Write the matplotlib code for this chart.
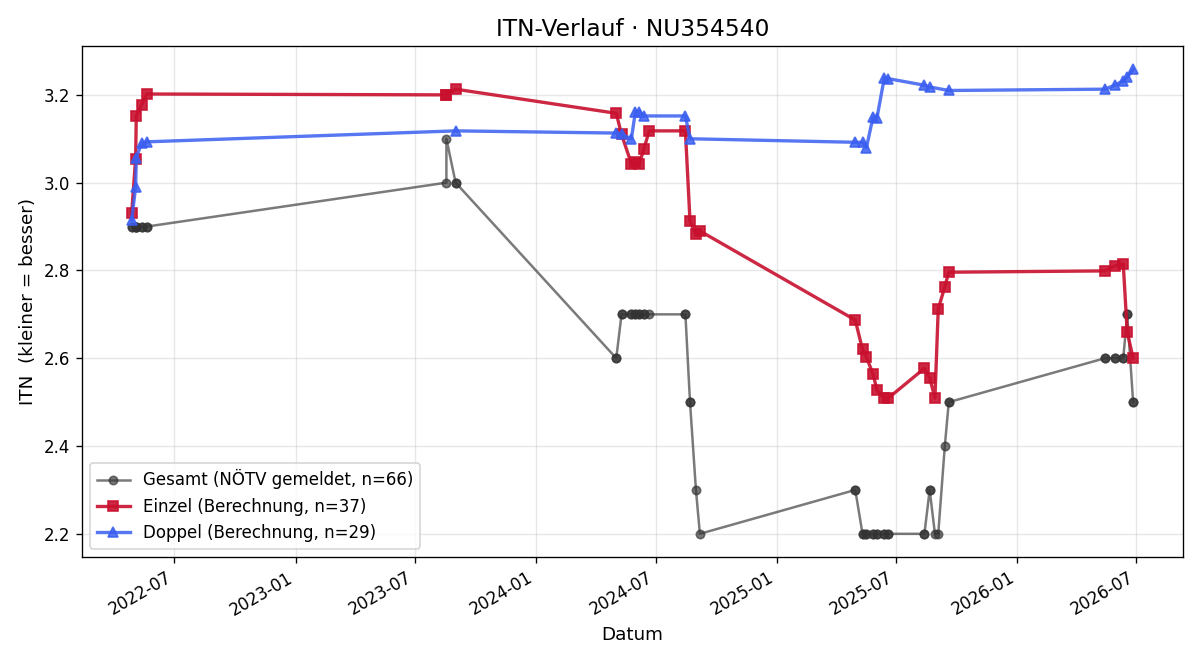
import matplotlib
matplotlib.use("Agg")
import matplotlib.pyplot as plt
import matplotlib.dates as mdates
import pandas as pd

gesamt_dates = (
    ["2022-04-27"] * 2 + ["2022-05-03"] * 2 + ["2022-05-04"] * 2 + ["2022-05-12"] * 2 + ["2022-05-20"] * 2
    + ["2023-08-18", "2023-08-18", "2023-09-01", "2023-09-01"]
    + ["2024-05-02"] * 2 + ["2024-05-10"] * 2 + ["2024-05-25"] * 2 + ["2024-05-31"] * 2
    + ["2024-06-06"] * 2 + ["2024-06-13"] * 2 + ["2024-06-21"] + ["2024-08-15"] * 2
    + ["2024-08-22"] * 2 + ["2024-08-31", "2024-09-06"]
    + ["2025-04-30"] * 2 + ["2025-05-11"] * 2 + ["2025-05-17"] * 2 + ["2025-05-27"] * 2
    + ["2025-06-02"] * 2 + ["2025-06-13"] * 2 + ["2025-06-19"] * 2 + ["2025-08-13"] * 2
    + ["2025-08-21"] * 2 + ["2025-08-29", "2025-09-03", "2025-09-13"] + ["2025-09-19"] * 2
    + ["2026-05-14"] * 2 + ["2026-05-29"] * 2 + ["2026-06-11"] * 2 + ["2026-06-17"] * 2 + ["2026-06-26"] * 2
)
gesamt_values = (
    [2.9] * 10
    + [3.0, 3.1, 3.0, 3.0]
    + [2.6, 2.6] + [2.7] * 13 + [2.5, 2.5, 2.3, 2.2]
    + [2.3, 2.3] + [2.2] * 14 + [2.3, 2.3, 2.2, 2.2, 2.4, 2.5, 2.5]
    + [2.6] * 6 + [2.7, 2.7, 2.5, 2.5]
)

einzel_dates = [
    "2022-04-27", "2022-05-03", "2022-05-04", "2022-05-12", "2022-05-20",
    "2023-08-18", "2023-08-18", "2023-09-01",
    "2024-05-02", "2024-05-10", "2024-05-25", "2024-05-31", "2024-06-06", "2024-06-13",
    "2024-06-21", "2024-08-15", "2024-08-22", "2024-08-31", "2024-09-06",
    "2025-04-30", "2025-05-11", "2025-05-17", "2025-05-27", "2025-06-02", "2025-06-13",
    "2025-06-19", "2025-08-13", "2025-08-21", "2025-08-29", "2025-09-03", "2025-09-13",
    "2025-09-19",
    "2026-05-14", "2026-05-29", "2026-06-11", "2026-06-17", "2026-06-26",
]
einzel_values = [
    2.93, 3.055, 3.152, 3.177, 3.202,
    3.20, 3.20, 3.213,
    3.158, 3.11, 3.043, 3.047, 3.043, 3.077, 3.118, 3.118, 2.912, 2.882, 2.89,
    2.687, 2.62, 2.602, 2.564, 2.527, 2.509, 2.509, 2.577, 2.556, 2.509, 2.712, 2.763, 2.796,
    2.799, 2.81, 2.815, 2.66, 2.60,
]

doppel_dates = [
    "2022-04-27", "2022-05-03", "2022-05-04", "2022-05-12", "2022-05-20",
    "2023-09-01",
    "2024-05-02", "2024-05-10", "2024-05-25", "2024-05-31", "2024-06-06", "2024-06-13",
    "2024-08-15", "2024-08-22",
    "2025-04-30", "2025-05-11", "2025-05-17", "2025-05-27", "2025-06-02", "2025-06-13",
    "2025-06-19", "2025-08-13", "2025-08-21", "2025-09-19",
    "2026-05-14", "2026-05-29", "2026-06-11", "2026-06-17", "2026-06-26",
]
doppel_values = [
    2.915, 2.99, 3.057, 3.09, 3.093,
    3.118,
    3.113, 3.11, 3.10, 3.162, 3.162, 3.152, 3.152, 3.10,
    3.092, 3.092, 3.08, 3.15, 3.148, 3.238, 3.237, 3.222, 3.218, 3.21,
    3.213, 3.222, 3.232, 3.24, 3.258,
]

fig = plt.figure(figsize=(10, 5.5), dpi=120)
ax = fig.add_axes([0.068, 0.156, 0.918, 0.774])

gd = pd.to_datetime(gesamt_dates)
ed = pd.to_datetime(einzel_dates)
dd = pd.to_datetime(doppel_dates)

ax.plot(gd, gesamt_values, color="#333333", alpha=0.65, marker="o", markersize=5,
        linewidth=1.5, label=f"Gesamt (NÖTV gemeldet, n={len(gesamt_values)})", zorder=2)
ax.plot(ed, einzel_values, color="#c8102e", alpha=0.9, marker="s", markersize=6.5,
        linewidth=2, label=f"Einzel (Berechnung, n={len(einzel_values)})", zorder=3)
ax.plot(dd, doppel_values, color="#3a5ef0", alpha=0.85, marker="^", markersize=6.5,
        linewidth=2, label=f"Doppel (Berechnung, n={len(doppel_values)})", zorder=3)

ax.set_title("ITN-Verlauf · NU354540", fontsize=14)
ax.set_xlabel("Datum", fontsize=11)
ax.set_ylabel("ITN  (kleiner = besser)", fontsize=11)
ax.grid(True, alpha=0.3)
ax.xaxis.set_major_locator(mdates.MonthLocator(bymonth=[1, 7]))
ax.xaxis.set_major_formatter(mdates.DateFormatter("%Y-%m"))
for lbl in ax.get_xticklabels():
    lbl.set_rotation(30)
    lbl.set_ha("right")
ax.tick_params(labelsize=10)
ax.legend(loc="lower left", fontsize=10)

fig.savefig("out.png", dpi=120)
